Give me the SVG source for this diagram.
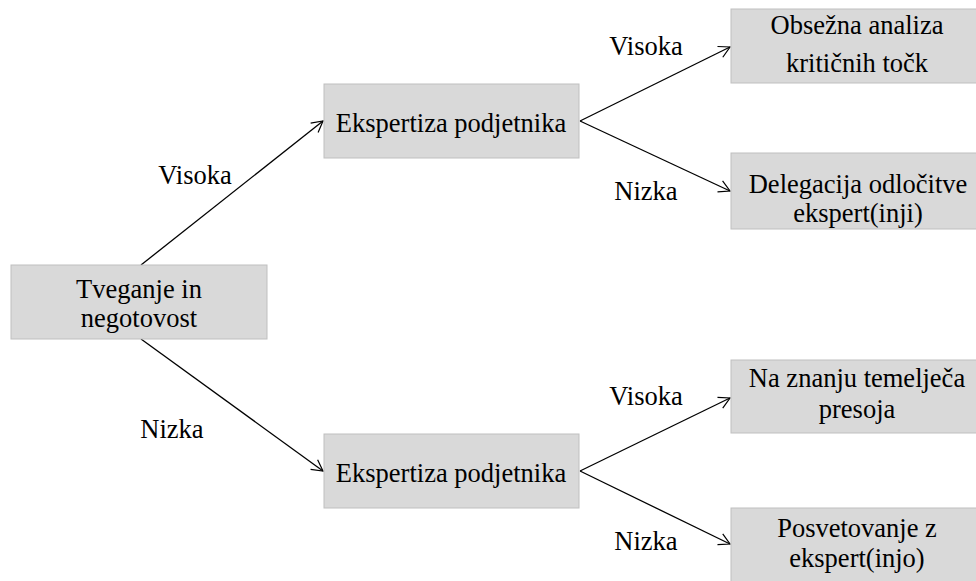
<svg xmlns="http://www.w3.org/2000/svg" width="976" height="581" viewBox="0 0 976 581">
<defs>
<marker id="arr" markerWidth="14" markerHeight="14" refX="12" refY="7" orient="auto" markerUnits="userSpaceOnUse">
<path d="M1,1 L12,7 L1,13" fill="none" stroke="#000" stroke-width="1.2"/>
</marker>
<style>
.box{fill:#d9d9d9;stroke:#bfbfbf;stroke-width:1}
.con line{stroke:#000;stroke-width:1.3;fill:none;marker-end:url(#arr)}
svg text.t{font-family:'Liberation Serif','Times New Roman',serif !important;font-size:26.5px !important;fill:#000;text-anchor:middle}
</style>
</defs>
<rect width="976" height="581" fill="#fff"/>
<g class="con" id="connectors">
<line x1="141" y1="265" x2="323" y2="121"/>
<line x1="141" y1="339" x2="323" y2="471"/>
<line x1="580" y1="121" x2="730" y2="47"/>
<line x1="580" y1="121" x2="730" y2="191"/>
<line x1="580" y1="471" x2="730" y2="398"/>
<line x1="580" y1="471" x2="730" y2="544"/>
</g>
<g id="labels">
<text class="t" style="font-family:'Liberation Serif',serif" x="195" y="184">Visoka</text>
<text class="t" style="font-family:'Liberation Serif',serif" x="172" y="438">Nizka</text>
<text class="t" style="font-family:'Liberation Serif',serif" x="646" y="55">Visoka</text>
<text class="t" style="font-family:'Liberation Serif',serif" x="646" y="200">Nizka</text>
<text class="t" style="font-family:'Liberation Serif',serif" x="646" y="405">Visoka</text>
<text class="t" style="font-family:'Liberation Serif',serif" x="646" y="550">Nizka</text>
</g>
<g id="root">
<rect class="box" x="11" y="265" width="256" height="74"/>
<text class="t" style="font-family:'Liberation Serif',serif" x="139" y="298">Tveganje in</text>
<text class="t" style="font-family:'Liberation Serif',serif" x="139" y="327">negotovost</text>
</g>
<g id="mid1">
<rect class="box" x="324" y="84" width="255" height="74"/>
<text class="t" style="font-family:'Liberation Serif',serif" x="451" y="132">Ekspertiza podjetnika</text>
</g>
<g id="mid2">
<rect class="box" x="324" y="434" width="255" height="74"/>
<text class="t" style="font-family:'Liberation Serif',serif" x="451" y="482">Ekspertiza podjetnika</text>
</g>
<g id="leaf1">
<rect class="box" x="731" y="9" width="256" height="74"/>
<text class="t" style="font-family:'Liberation Serif',serif" x="857" y="34">Obsežna analiza</text>
<text class="t" style="font-family:'Liberation Serif',serif" x="857" y="72">kritičnih točk</text>
</g>
<g id="leaf2">
<rect class="box" x="731" y="153" width="256" height="76"/>
<text class="t" style="font-family:'Liberation Serif',serif" x="858" y="193">Delegacija odločitve</text>
<text class="t" style="font-family:'Liberation Serif',serif" x="858" y="222">ekspert(inji)</text>
</g>
<g id="leaf3">
<rect class="box" x="731" y="360" width="256" height="73"/>
<text class="t" style="font-family:'Liberation Serif',serif" x="857" y="387">Na znanju temelječa</text>
<text class="t" style="font-family:'Liberation Serif',serif" x="857" y="418">presoja</text>
</g>
<g id="leaf4">
<rect class="box" x="731" y="508" width="256" height="80"/>
<text class="t" style="font-family:'Liberation Serif',serif" x="857" y="537">Posvetovanje z</text>
<text class="t" style="font-family:'Liberation Serif',serif" x="857" y="567">ekspert(injo)</text>
</g>
</svg>
